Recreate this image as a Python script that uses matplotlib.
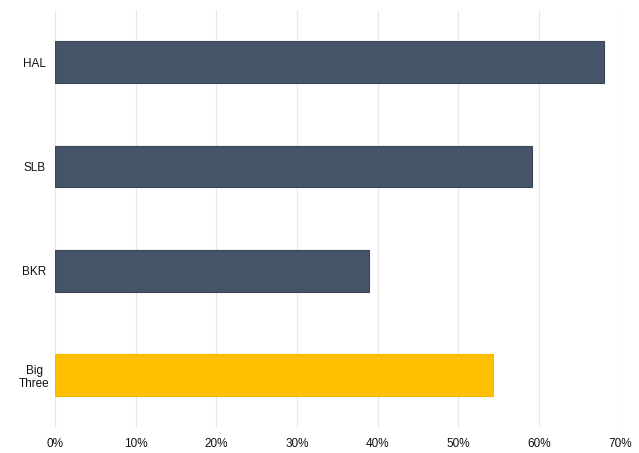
import numpy as np
import matplotlib.pyplot as plt
from matplotlib.ticker import PercentFormatter

plt.rcParams['font.family'] = ['Liberation Sans', 'DejaVu Sans']

labels = ['HAL', 'SLB', 'BKR', 'Big\nThree']
values = [68.1, 59.1, 38.9, 54.3]
colors = ['#465469', '#465469', '#465469', '#fdbf00']

fig = plt.figure(figsize=(6.39, 4.53), dpi=100)
ax = fig.add_axes([0.086, 0.057, 0.884, 0.921])

y = np.arange(len(labels))
ax.barh(y, values, height=0.4, color=colors, edgecolor=['#3a4657', '#3a4657', '#3a4657', '#f5b800'],
        linewidth=0.8, zorder=3)

ax.set_ylim(len(labels) - 0.5, -0.5)
ax.set_xlim(0, 70)
ax.set_xticks(np.arange(0, 71, 10))
ax.xaxis.set_major_formatter(PercentFormatter(decimals=0))
ax.set_yticks(y)
ax.set_yticklabels(labels)

ax.grid(axis='x', color='#e8e8e8', linewidth=0.9, zorder=0)
for s in ax.spines.values():
    s.set_visible(False)
ax.tick_params(length=0, labelsize=8.5, colors='#111111')
ax.tick_params(axis='y', pad=15)
ax.tick_params(axis='x', pad=8)
for t in ax.get_yticklabels():
    t.set_horizontalalignment('center')
    t.set_multialignment('center')

fig.savefig('out.png', dpi=100)
